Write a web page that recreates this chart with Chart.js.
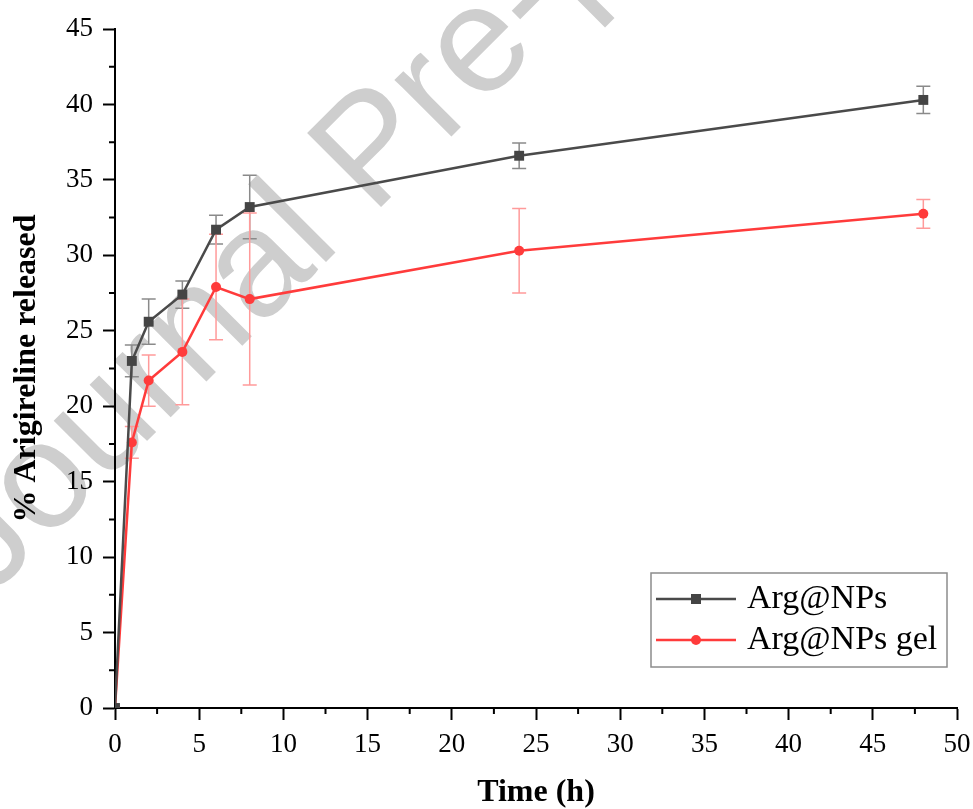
<!DOCTYPE html>
<html>
<head>
<meta charset="utf-8">
<script src="https://cdn.jsdelivr.net/npm/chart.js@4.4.1/dist/chart.umd.min.js"></script>
<style>
  html, body { margin: 0; padding: 0; background: #fff; }
</style>
</head>
<body>
<canvas id="chart" width="973" height="809"></canvas>
<script>
// release data
const timeHours = [0, 1, 2, 4, 6, 8, 24, 48];
const npsRelease = [0, 23.0, 25.6, 27.4, 31.7, 33.2, 36.6, 40.3];
const npsError = [0, 1.05, 1.5, 0.9, 0.95, 2.1, 0.85, 0.9];
const gelRelease = [0, 17.6, 21.7, 23.6, 27.9, 27.1, 30.3, 32.75];
const gelError = [0, 1.05, 1.7, 3.5, 3.5, 5.7, 2.8, 0.95];
const seriesNames = ['Arg@NPs', 'Arg@NPs gel'];
const xTickValues = [0, 5, 10, 15, 20, 25, 30, 35, 40, 45, 50];
const yTickValues = [0, 5, 10, 15, 20, 25, 30, 35, 40, 45];

const gray = '#4a4a4a';
const red = '#ff3b3b';
const serif = '"Liberation Serif", "Times New Roman", serif';

function toPoints(ys) {
    return timeHours.map((t, i) => ({x: t, y: ys[i]}));
}

const errorSets = [
    {values: npsRelease, errors: npsError, color: '#8a8a8a'},
    {values: gelRelease, errors: gelError, color: '#ff9a9a'}
];

const watermark = {
    id: 'watermark',
    beforeDraw(chart) {
        const ctx = chart.ctx;
        ctx.save();
        ctx.translate(-10, 598);
        ctx.rotate(-Math.PI / 4);
        ctx.font = '152px "Liberation Sans", Arial, sans-serif';
        ctx.fillStyle = '#cecece';
        ctx.textBaseline = 'alphabetic';
        ctx.fillText('Journal Pre-proof', 0, 0);
        ctx.restore();
    }
};

const errorBars = {
    id: 'errorBars',
    beforeDatasetsDraw(chart) {
        const {ctx, scales: {x, y}} = chart;
        ctx.save();
        ctx.lineWidth = 1.5;
        errorSets.forEach(set => {
            ctx.strokeStyle = set.color;
            timeHours.forEach((t, i) => {
                const e = set.errors[i];
                if (!e) return;
                const px = x.getPixelForValue(t);
                const top = y.getPixelForValue(set.values[i] + e);
                const bot = y.getPixelForValue(set.values[i] - e);
                ctx.beginPath();
                ctx.moveTo(px, top); ctx.lineTo(px, bot);
                ctx.moveTo(px - 7, top); ctx.lineTo(px + 7, top);
                ctx.moveTo(px - 7, bot); ctx.lineTo(px + 7, bot);
                ctx.stroke();
            });
        });
        ctx.restore();
    }
};

// short minor ticks halfway between the labelled ones
const minorTicks = {
    id: 'minorTicks',
    afterDraw(chart) {
        const {ctx, scales: {x, y}} = chart;
        ctx.save();
        ctx.strokeStyle = '#000';
        ctx.lineWidth = 2;
        ctx.beginPath();
        for (let i = 0; i < xTickValues.length - 1; i++) {
            const px = x.getPixelForValue((xTickValues[i] + xTickValues[i + 1]) / 2);
            ctx.moveTo(px, x.top); ctx.lineTo(px, x.top + 6);
        }
        for (let i = 0; i < yTickValues.length - 1; i++) {
            const py = y.getPixelForValue((yTickValues[i] + yTickValues[i + 1]) / 2);
            ctx.moveTo(y.right, py); ctx.lineTo(y.right - 6, py);
        }
        ctx.stroke();
        ctx.restore();
    }
};

const boxLegend = {
    id: 'boxLegend',
    afterDraw(chart) {
        const ctx = chart.ctx;
        const area = chart.chartArea;
        const bx = area.right - 306, by = area.bottom - 135, bw = 296, bh = 94;
        ctx.save();
        ctx.fillStyle = '#fff';
        ctx.fillRect(bx, by, bw, bh);
        ctx.strokeStyle = '#8c8c8c';
        ctx.lineWidth = 1.5;
        ctx.strokeRect(bx, by, bw, bh);
        chart.data.datasets.forEach((ds, i) => {
            const cy = by + 26 + i * 41;
            ctx.strokeStyle = ds.borderColor;
            ctx.lineWidth = 2.5;
            ctx.beginPath();
            ctx.moveTo(bx + 5, cy); ctx.lineTo(bx + 85, cy);
            ctx.stroke();
            ctx.fillStyle = ds.pointBackgroundColor;
            if (ds.pointStyle === 'rect') {
                ctx.fillRect(bx + 40, cy - 5, 10, 10);
            } else {
                ctx.beginPath();
                ctx.arc(bx + 45, cy, 5, 0, Math.PI * 2);
                ctx.fill();
            }
            ctx.fillStyle = '#000';
            ctx.font = '34px ' + serif;
            ctx.textBaseline = 'middle';
            ctx.fillText(ds.label, bx + 96, cy);
        });
        ctx.restore();
    }
};

const ctx = document.getElementById('chart').getContext('2d');
new Chart(ctx, {
    type: 'scatter',
    data: {
        datasets: [{
            label: seriesNames[0],
            data: toPoints(npsRelease),
            showLine: true,
            borderColor: gray,
            borderWidth: 2.5,
            pointStyle: 'rect',
            pointRadius: 7,
            pointHoverRadius: 7,
            pointBackgroundColor: '#444',
            pointBorderColor: '#444',
            pointBorderWidth: 0
        }, {
            label: seriesNames[1],
            data: toPoints(gelRelease),
            showLine: true,
            borderColor: red,
            borderWidth: 2.5,
            pointStyle: 'circle',
            pointRadius: 5,
            pointHoverRadius: 5,
            pointBackgroundColor: red,
            pointBorderColor: red,
            pointBorderWidth: 0
        }]
    },
    options: {
        responsive: false,
        animation: false,
        layout: {
            padding: {left: 0, top: 29, right: 0, bottom: 0}
        },
        plugins: {
            legend: {display: false},
            tooltip: {enabled: false}
        },
        scales: {
            x: {
                type: 'linear',
                min: 0,
                max: 50,
                afterFit(s) {
                    s.height = 101;
                    s.paddingLeft = 0;
                    s.paddingRight = 16;
                },
                afterBuildTicks(s) { s.ticks = xTickValues.map(v => ({value: v})); },
                grid: {
                    drawOnChartArea: false,
                    tickLength: 12,
                    tickWidth: 2,
                    tickColor: '#000'
                },
                border: {display: true, color: '#000', width: 2},
                ticks: {
                    color: '#000',
                    font: {family: serif, size: 27},
                    padding: 9,
                    maxRotation: 0,
                    autoSkip: false
                },
                title: {
                    display: true,
                    text: 'Time (h)',
                    color: '#000',
                    font: {family: serif, size: 32, weight: 'bold', lineHeight: 1},
                    padding: {top: 0, bottom: 0}
                }
            },
            y: {
                type: 'linear',
                min: 0,
                max: 45,
                afterFit(s) { s.width = 115; },
                afterBuildTicks(s) { s.ticks = yTickValues.map(v => ({value: v})); },
                grid: {
                    drawOnChartArea: false,
                    tickLength: 12,
                    tickWidth: 2,
                    tickColor: '#000'
                },
                border: {display: true, color: '#000', width: 2},
                ticks: {
                    color: '#000',
                    font: {family: serif, size: 27},
                    padding: 10,
                    autoSkip: false
                },
                title: {
                    display: true,
                    text: '% Arigireline released',
                    color: '#000',
                    font: {family: serif, size: 32, weight: 'bold', lineHeight: 1},
                    padding: {top: 11, bottom: 0}
                }
            }
        }
    },
    plugins: [watermark, errorBars, minorTicks, boxLegend]
});
</script>
</body>
</html>
